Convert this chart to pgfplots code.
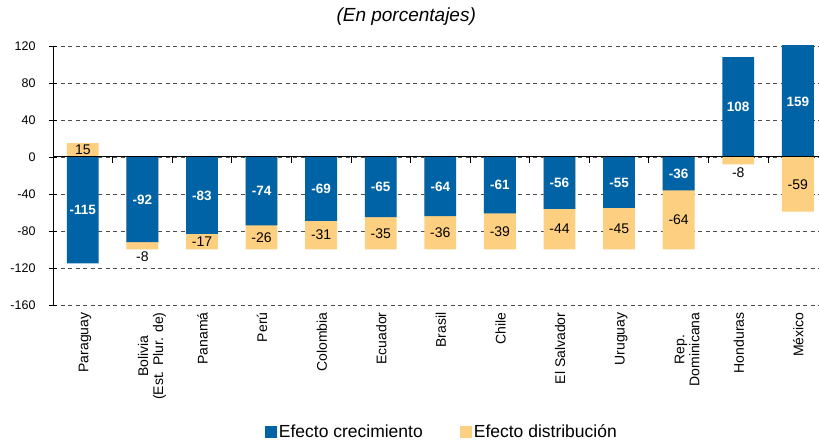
\documentclass[border=0pt]{standalone}
\usepackage{pgfplots}
\pgfplotsset{compat=1.18}
\usepackage{pgfplotstable}
\usepackage{fontspec}
\setmainfont{Liberation Sans}
\definecolor{cblue}{RGB}{0,99,166}
\definecolor{cyellow}{RGB}{253,207,128}

% x: category index; crec: efecto crecimiento; dist: efecto distribucion
% distbar: end of the yellow bar measured from 0; creclab/distlab: label heights
\pgfplotstableread{
x crec dist distbar creclab distlab
0 -115 15 15 -57.5 7.5
1 -92 -8 -100 -46 -108
2 -83 -17 -100 -41.5 -91.5
3 -74 -26 -100 -37 -87
4 -69 -31 -100 -34.5 -84.5
5 -65 -35 -100 -32.5 -82.5
6 -64 -36 -100 -32 -82
7 -61 -39 -100 -30.5 -80.5
8 -56 -44 -100 -28 -78
9 -55 -45 -100 -27.5 -77.5
10 -36 -64 -100 -18 -68
11 108 -8 -8 54 -17
12 159 -59 -59 60 -29.5
}\data

\begin{document}
\begin{tikzpicture}
\begin{axis}[
  name=ax,
  scale only axis,
  width=774.6pt, height=259pt,
  xmin=-0.5, xmax=12.5,
  ymin=-160, ymax=120,
  ytick={-160,-120,...,120},
  xtick={0,...,12},
  xticklabels={Paraguay,{\begin{tabular}[t]{@{}c@{}}Bolivia\\(Est. Plur. de)\end{tabular}},Panamá,Perú,Colombia,Ecuador,Brasil,Chile,El Salvador,Uruguay,{\begin{tabular}[t]{@{}c@{}}Rep.\\Dominicana\end{tabular}},Honduras,México},
  xticklabel style={rotate=90, anchor=mid east, font=\fontsize{14}{15}\selectfont, yshift=-3pt},
  xtick style={draw=none},
  axis lines*=left,
  x axis line style={draw=none},
  axis line style={line width=1pt, black},
  tick align=center,
  major tick length=8pt,
  ytick style={black, line width=0.8pt},
  yticklabel style={font=\fontsize{12.5}{14}\selectfont, xshift=-10pt},
  /pgf/number format/assume math mode=true,
  ymajorgrids,
  grid style={dash pattern=on 4pt off 3.5pt, black!70, line width=0.7pt},
  title={(En porcentajes)},
  title style={at={(0.456,1)}, anchor=center, yshift=23pt, font=\fontsize{19}{22}\selectfont\itshape},
  legend style={at={(0.502,-0.49)}, anchor=center, draw=none, fill=none,
    font=\fontsize{17.5}{20}\selectfont, legend columns=2,
    /tikz/every even column/.append style={column sep=35pt}},
  legend image code/.code={\fill[#1] (-2pt,-6pt) rectangle (10pt,6pt);},
]
\addlegendimage{fill=cblue, draw=none}
\addlegendentry{Efecto crecimiento}
\addlegendimage{fill=cyellow, draw=none}
\addlegendentry{Efecto distribución}

\addplot[ybar, bar width=0.535, bar shift=0pt, fill=cyellow, draw=none, forget plot]
  table[x=x, y=distbar] {\data};
\addplot[ybar, bar width=0.535, bar shift=0pt, fill=cblue, draw=none, forget plot]
  table[x=x, y=crec] {\data};

\draw[black, line width=1pt] (axis cs:-0.5,0) -- (axis cs:12.5,0);
\draw[black, line width=0.8pt] foreach \i in {0.5,1.5,...,11.5} {(axis cs:\i,0) -- ++(0pt,-6pt)};
\draw[black, line width=0.8pt] foreach \i in {0.5,1.5,...,11.5} {(axis cs:\i,-160) -- ++(0pt,-6pt)};

\addplot[draw=none, mark=none, forget plot, nodes near coords, point meta=explicit symbolic,
  every node near coord/.append style={anchor=center, text=white, font=\fontsize{13.5}{15}\selectfont\bfseries}]
  table[x=x, y=creclab, meta=crec] {\data};
\addplot[draw=none, mark=none, forget plot, nodes near coords, point meta=explicit symbolic,
  every node near coord/.append style={anchor=center, text=black, font=\fontsize{14}{16}\selectfont}]
  table[x=x, y=distlab, meta=dist] {\data};
\end{axis}
\pgfresetboundingbox
\path[use as bounding box] ([xshift=-53pt,yshift=-138pt]ax.south west) rectangle ([xshift=-8.6pt,yshift=46pt]ax.north east);
\end{tikzpicture}
\end{document}
